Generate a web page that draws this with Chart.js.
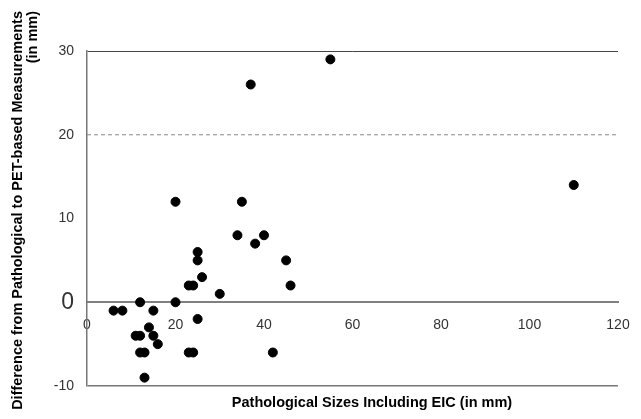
<!DOCTYPE html>
<html>
<head>
<meta charset="utf-8">
<script src="https://cdn.jsdelivr.net/npm/chart.js@4.4.1/dist/chart.umd.min.js"></script>
<style>
  html, body { margin: 0; padding: 0; background: #fff; }
  #wrap { width: 641px; height: 419px; }
</style>
</head>
<body>
<div id="wrap"><canvas id="chart"></canvas></div>
<script>
// pathological size (mm) vs difference pathological - PET (mm)
const sizes = [6, 8, 11, 12, 12, 12, 13, 13, 14, 15, 15, 16, 20, 20, 23, 24, 23, 24,
    25, 25, 25, 26, 30, 34, 35, 37, 38, 40, 42, 45, 46, 55, 110];
const diffs = [-1, -1, -4, -4, 0, -6, -6, -9, -3, -1, -4, -5, 12, 0, 2, 2, -6, -6,
    6, 5, -2, 3, 1, 8, 12, 26, 7, 8, -6, 5, 2, 29, 14];

const thresholdX = [0, 120];
const thresholdY = [20, 20];

const xTicks = [0, 20, 40, 60, 80, 100, 120];
const yTicks = [-10, 0, 10, 20, 30];

const xTitle = "Pathological Sizes Including EIC (in mm)";
const yTitle = ["Difference from Pathological to PET-based Measurements", "(in mm)"];

const FONT = "Liberation Sans, Arial, sans-serif";

const titlePlugin = {
    id: "axisTitles",
    afterDraw(chart) {
        const ctx = chart.ctx;
        ctx.save();
        ctx.fillStyle = "#000";
        ctx.font = "bold 14.5px " + FONT;
        ctx.textAlign = "center";
        ctx.textBaseline = "middle";
        ctx.fillText(xTitle, 372, 403);

        // rotated y title, both lines pushed to the top end
        ctx.rotate(-Math.PI / 2);
        ctx.textAlign = "right";
        ctx.fillText(yTitle[0], -11, 18);
        ctx.fillText(yTitle[1], -11, 33);
        ctx.restore();
    }
};

const points = sizes.map((s, i) => ({ x: s, y: diffs[i] }));
const threshold = thresholdX.map((x, i) => ({ x: x, y: thresholdY[i] }));

new Chart(document.getElementById("chart"), {
    type: "scatter",
    data: {
        datasets: [
            {
                data: points,
                backgroundColor: "#000",
                borderColor: "#000",
                pointRadius: 4.5,
                pointHoverRadius: 4.5
            },
            {
                data: threshold,
                showLine: true,
                borderColor: "#888",
                borderWidth: 1,
                borderDash: [4, 3],
                pointRadius: 0
            }
        ]
    },
    options: {
        responsive: true,
        maintainAspectRatio: false,
        animation: false,
        layout: { padding: { left: 0, right: 23, top: 51, bottom: 33 } },
        plugins: {
            legend: { display: false },
            tooltip: { enabled: false }
        },
        scales: {
            x: {
                type: "linear",
                position: { y: 0 },
                min: 0,
                max: 120,
                afterBuildTicks(scale) { scale.ticks = xTicks.map(v => ({ value: v })); },
                grid: { display: false },
                border: { display: true, color: "#808080", width: 2 },
                ticks: {
                    color: "#333",
                    font: { family: FONT, size: 14 },
                    padding: 6,
                    maxRotation: 0
                }
            },
            y: {
                type: "linear",
                min: -10,
                max: 30,
                afterBuildTicks(scale) { scale.ticks = yTicks.map(v => ({ value: v })); },
                afterFit(scale) { scale.width = 87; },
                grid: {
                    drawTicks: false,
                    color: c => {
                        if (!c.tick) return "rgba(0,0,0,0)";
                        if (c.tick.value === 30) return "#444";
                        if (c.tick.value === -10) return "#777";
                        return "rgba(0,0,0,0)";
                    },
                    lineWidth: c => (c.tick && c.tick.value === -10) ? 1.5 : 1
                },
                border: { display: true, color: "#777", width: 1.5 },
                ticks: {
                    color: "#333",
                    padding: 13,
                    font: c => ({ family: FONT, size: (c.tick && c.tick.value === 0) ? 23 : 14 })
                }
            }
        }
    },
    plugins: [titlePlugin]
});
</script>
</body>
</html>
